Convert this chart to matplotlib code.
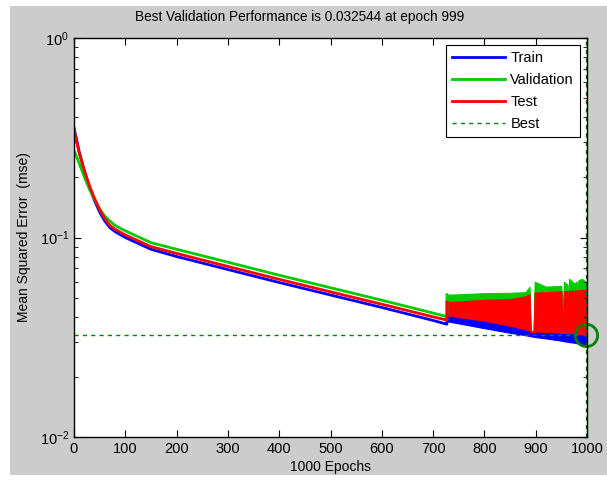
import matplotlib
matplotlib.use('Agg')
import matplotlib.pyplot as plt
from matplotlib.patches import Rectangle

plt.rcParams['font.family'] = ['Liberation Sans', 'DejaVu Sans']

# smooth part of the training record (epochs 0..726)
epochs = [0, 10, 20, 30, 40, 50, 60, 70, 80, 100, 150, 200, 300, 400, 500, 600, 700, 726]
train = [0.355, 0.270, 0.217, 0.179, 0.153, 0.134, 0.121, 0.112, 0.107, 0.100,
         0.0873, 0.0803, 0.0691, 0.0595, 0.0515, 0.0446, 0.0384, 0.0368]
valid = [0.273, 0.236, 0.202, 0.175, 0.155, 0.139, 0.128, 0.121, 0.115, 0.108,
         0.0942, 0.0873, 0.0752, 0.0647, 0.0560, 0.0485, 0.0418, 0.0402]
test = [0.347, 0.266, 0.217, 0.182, 0.157, 0.138, 0.124, 0.115, 0.110, 0.103,
        0.0900, 0.0832, 0.0716, 0.0617, 0.0534, 0.0463, 0.0400, 0.0386]

# oscillating part (epochs 727..999): envelopes
noisy_epochs = [727, 750, 800, 850, 880, 888, 890, 896, 898, 920, 950,
                952, 953, 955, 962, 963, 965, 975, 980, 981, 983, 990, 998, 999]
valid_top = [0.0517, 0.0519, 0.0526, 0.0528, 0.0532, 0.0565, 0.0340, 0.0340, 0.0600, 0.0567, 0.0572,
             0.0360, 0.0360, 0.0600, 0.0580, 0.0380, 0.0620, 0.0590, 0.0600, 0.0370, 0.0610, 0.0620, 0.0600, 0.0325]
test_top = [0.0474, 0.0478, 0.0487, 0.0491, 0.0507, 0.0520, 0.0340, 0.0340, 0.0530, 0.0532, 0.0538,
            0.0360, 0.0360, 0.0538, 0.0540, 0.0380, 0.0540, 0.0540, 0.0545, 0.0370, 0.0545, 0.0547, 0.0549, 0.0330]
test_bot = [0.0407, 0.0399, 0.0383, 0.0361, 0.0347, 0.0341, 0.0336, 0.0336, 0.0338, 0.0336, 0.0333,
            0.0333, 0.0333, 0.0333, 0.0332, 0.0332, 0.0332, 0.0330, 0.0329, 0.0329, 0.0329, 0.0328, 0.0327, 0.0325]
train_bot = [0.0380, 0.0371, 0.0351, 0.0333, 0.0324, 0.0321, 0.0320, 0.0318, 0.0317, 0.0312, 0.0304,
             0.0303, 0.0303, 0.0302, 0.0300, 0.0300, 0.0299, 0.0297, 0.0295, 0.0295, 0.0294, 0.0292, 0.0290, 0.0290]

best_epoch = 999
best_perf = 0.032544
n_epochs = 1000

blue = (0, 0, 1)
green = (0, 0.8, 0)
red = (1, 0, 0)
dkgreen = (0, 0.5, 0)

fig = plt.figure(figsize=(6.07, 4.8), dpi=100)
fig.patch.set_facecolor('white')
fig.patches.append(Rectangle((10 / 607, 1 - 475 / 480), 597 / 607, 469 / 480,
                             transform=fig.transFigure, facecolor='#cccccc',
                             edgecolor='none', zorder=-10))

ax = fig.add_axes([74 / 607, 1 - 437 / 480, 513 / 607, 399 / 480])
ax.set_facecolor('white')

# noisy bands
ax.fill_between(noisy_epochs, test_top, valid_top, color=green, lw=0.8, edgecolor=green)
ax.fill_between(noisy_epochs, train_bot, test_bot, color=blue, lw=0.8, edgecolor=blue)
ax.fill_between(noisy_epochs, test_bot, test_top, color=red, lw=0.8, edgecolor=red)

# smooth lines, joined to the start of the bands
ax.plot(epochs + [noisy_epochs[0], noisy_epochs[0]], train + [train[-1], test_bot[0]],
        color=blue, lw=2, label='Train')
ax.plot(epochs + [noisy_epochs[0], noisy_epochs[0]], valid + [valid[-1], valid_top[0]],
        color=green, lw=2, label='Validation')
ax.plot(epochs + [noisy_epochs[0], noisy_epochs[0]], test + [test[-1], test_top[0]],
        color=red, lw=2, label='Test')

ax.axhline(best_perf, color=dkgreen, ls=(0, (3, 3)), lw=1, label='Best')
ax.axvline(best_epoch, color=dkgreen, ls=(0, (3, 3)), lw=1)
ax.plot([best_epoch], [best_perf], 'o', mfc='none', mec=dkgreen, mew=2, ms=16, clip_on=False)

ax.set_yscale('log')
ax.set_xlim(0, n_epochs)
ax.set_ylim(0.01, 1)
ax.set_xticks(range(0, 1001, 100))
ax.tick_params(which='both', direction='in', top=True, right=True, colors='black',
               labelsize=10.5)
ax.tick_params(which='major', length=5)
ax.tick_params(which='minor', length=3)
for s in ax.spines.values():
    s.set_linewidth(1)

# MATLAB puts the title a little left of the axes centre
fig.text(300 / 607, 1 - 17 / 480,
         'Best Validation Performance is %.6f at epoch %d' % (best_perf, best_epoch),
         fontsize=9.8, ha='center', va='center')
ax.set_xlabel('%d Epochs' % n_epochs, fontsize=10, labelpad=3)
ax.set_ylabel('Mean Squared Error  (mse)', fontsize=10, labelpad=6)

leg = ax.legend(loc='upper right', bbox_to_anchor=(0.986, 0.9825), fontsize=10.5,
                handlelength=3.6, fancybox=False, framealpha=1, edgecolor='black',
                borderpad=0.4, labelspacing=0.55, handletextpad=0.4, borderaxespad=0)
leg.get_frame().set_linewidth(0.8)

fig.savefig('out.png', dpi=100)
